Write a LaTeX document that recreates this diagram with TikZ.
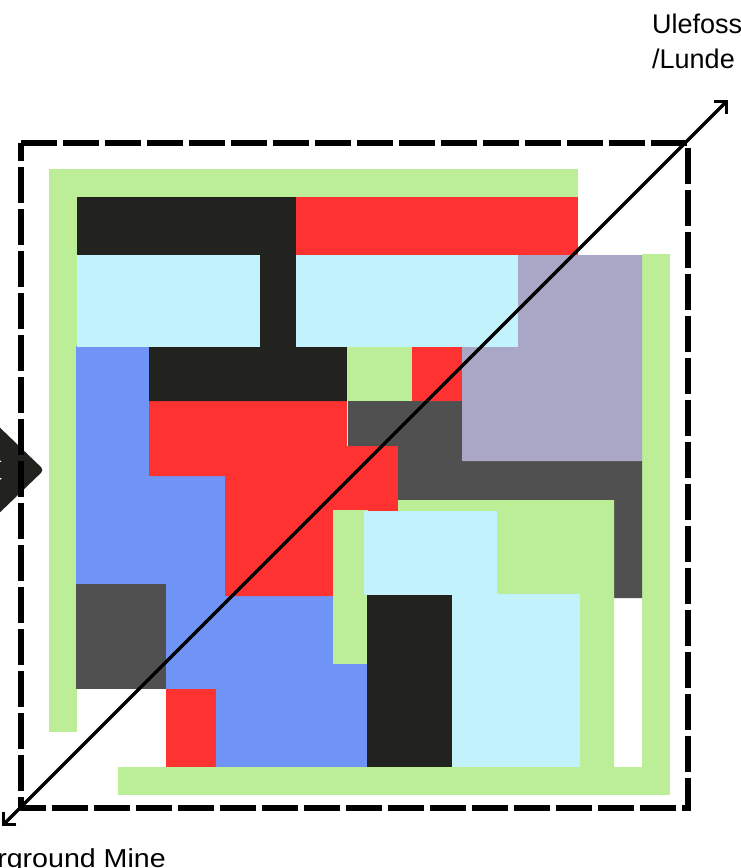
\documentclass[tikz,border=0pt]{standalone}
\usepackage{fontspec}
\setmainfont{Liberation Sans}
\newfontfamily\widesans[FakeStretch=1.1]{Liberation Sans}
\usetikzlibrary{arrows.meta}
\definecolor{cgreen}{RGB}{188,238,151}
\definecolor{cblack}{RGB}{34,34,30}
\definecolor{cred}{RGB}{255,50,50}
\definecolor{ccyan}{RGB}{194,242,252}
\definecolor{cpurple}{RGB}{169,166,198}
\definecolor{cgray}{RGB}{80,80,80}
\definecolor{cblue}{RGB}{112,148,245}
\tikzset{
  frameline/.style={draw=black, line width=6pt, dash pattern=on 36pt off 6pt},
  axisline/.style={draw=black, line width=3.2pt, {Straight Barb[length=9pt,width=18pt]}-{Straight Barb[length=9pt,width=18pt]}},
  lbl/.style={font=\fontsize{27}{32}\selectfont, inner sep=0pt, text=black},
  lblwide/.style={font=\widesans\fontsize{26}{31}\selectfont, inner sep=0pt, text=black}
}
\begin{document}
\begin{tikzpicture}[x=1pt,y=-1pt]
\useasboundingbox (0,0) rectangle (741,868);
\begin{scope}
\clip (0,0) rectangle (741,868);
% partial arrow at the left edge
\fill[cblack, rounded corners=4pt] (-8,420) -- (44,470) -- (-8,520) -- (-8,488) -- (10,470) -- (-8,452) -- cycle;
\fill[cblack] (-8,462) rectangle (20,478);

% green frame bars
\fill[cgreen] (49,169) rectangle (578,197);
\fill[cgreen] (49,169) rectangle (77,732);
\fill[cgreen] (642,254) rectangle (670,795);
\fill[cgreen] (118,767) rectangle (670,795);

% blue
\fill[cblue] (76,346) rectangle (149,476);
\fill[cblue] (76,476) rectangle (225,596);
\fill[cblue] (166,584) rectangle (367,767);

% big red
\fill[cred] (149,401) -- (347,401) -- (347,446) -- (398,446) -- (398,511) -- (333,511) -- (333,596) -- (225,596) -- (225,476) -- (149,476) -- cycle;

% dark gray band
\fill[cgray] (348,401) -- (462,401) -- (462,461) -- (642,461) -- (642,598) -- (614,598) -- (614,500) -- (398,500) -- (398,446) -- (348,446) -- cycle;

% purple
\fill[cpurple] (518,255) -- (642,255) -- (642,461) -- (462,461) -- (462,347) -- (518,347) -- cycle;

% black top shape
\fill[cblack] (77,197) -- (296,197) -- (296,347) -- (347,347) -- (347,401) -- (149,401) -- (149,347) -- (260,347) -- (260,255) -- (77,255) -- cycle;

% reds
\fill[cred] (296,197) rectangle (578,255);
\fill[cred] (412,347) rectangle (462,401);
\fill[cred] (166,689) rectangle (216,767);

% greens inside
\fill[cgreen] (347,347) rectangle (412,401);
\fill[cgreen] (398,500) -- (614,500) -- (614,767) -- (580,767) -- (580,594) -- (497,594) -- (497,511) -- (398,511) -- cycle;
\fill[cgreen] (333,510) rectangle (368,664);

% cyans
\fill[ccyan] (77,255) rectangle (260,347);
\fill[ccyan] (296,255) rectangle (518,347);
\fill[ccyan] (364,511) rectangle (497,595);
\fill[ccyan] (452,594) rectangle (580,767);

% black lower
\fill[cblack] (367,595) rectangle (452,767);

% dark gray square
\fill[cgray] (76,584) rectangle (166,689);

% dashed frame
\draw[frameline] (21,143) -- (688,143) -- (688,808) -- (21,808) -- cycle;

% diagonal axis
\coordinate (sw) at (2,826);
\coordinate (ne) at (728,100);
\draw[axisline] (sw) -- (ne);

% labels
\node[lbl, anchor=base west] (ulefoss) at (652,33) {Ulefoss};
\node[lbl, anchor=base west] (lunde) at (652,68) {/Lunde};
\node[lblwide, anchor=base east] (mine) at (166,867) {Underground Mine};
\end{scope}
\end{tikzpicture}
\end{document}
